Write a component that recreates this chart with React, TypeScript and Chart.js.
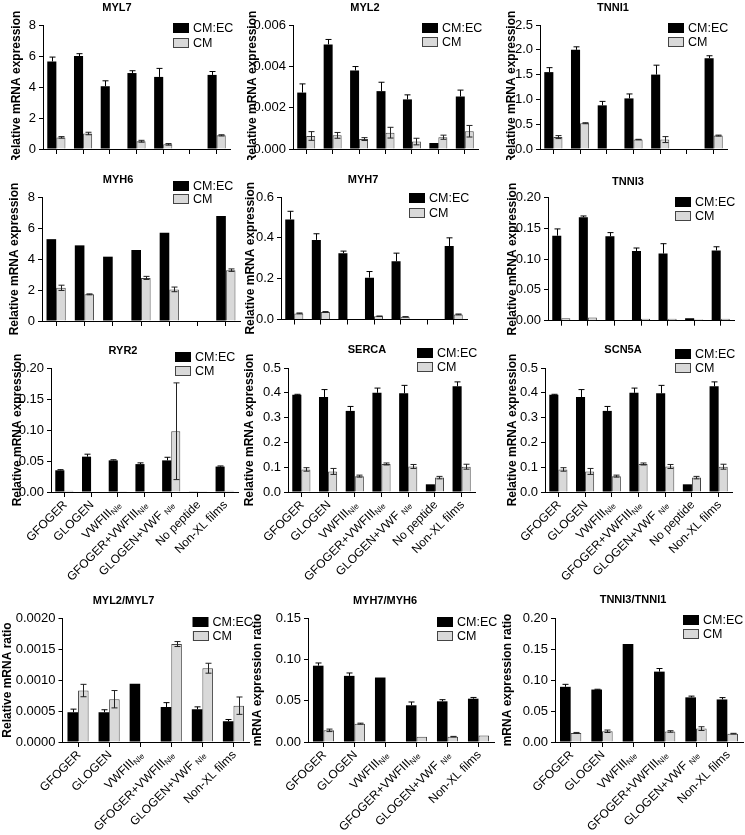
import React, { useEffect, useRef } from "react";
import { Chart, registerables } from "chart.js";

Chart.register(...registerables);

const FONT = "'Liberation Sans', Arial, Helvetica, sans-serif";
Chart.defaults.font.family = FONT;

// ---------- categories / series ----------
const categories = ["GFOGER", "GLOGEN", "VWFIII_Nle", "GFOGER+VWFIII_Nle", "GLOGEN+VWF _Nle", "No peptide", "Non-XL films"];
const ratioCategories = ["GFOGER", "GLOGEN", "VWFIII_Nle", "GFOGER+VWFIII_Nle", "GLOGEN+VWF _Nle", "Non-XL films"];
const seriesNames = ["CM:EC", "CM"];

// ---------- values ----------
const myl7EC = [5.65, 6.0, 4.05, 4.9, 4.65, null, 4.78];
const myl7ECErr = [0.28, 0.15, 0.35, 0.15, 0.55, 0, 0.22];
const myl7CM = [0.75, 1.0, null, 0.5, 0.3, null, 0.88];
const myl7CMErr = [0.05, 0.08, 0, 0.06, 0.05, 0, 0.04];

const myl2EC = [0.00273, 0.00506, 0.0038, 0.0028, 0.0024, 0.00029, 0.00254];
const myl2ECErr = [0.00042, 0.00024, 0.00019, 0.00043, 0.00022, 0, 0.00031];
const myl2CM = [0.00063, 0.00066, 0.00048, 0.00079, 0.00036, 0.00057, 0.00086];
const myl2CMErr = [0.00021, 0.00014, 0.00007, 0.00026, 0.00016, 0.0001, 0.00028];

const tnni1EC = [1.55, 2.0, 0.88, 1.02, 1.5, null, 1.83];
const tnni1ECErr = [0.09, 0.06, 0.08, 0.09, 0.19, 0, 0.05];
const tnni1CM = [0.24, 0.52, null, 0.19, 0.19, null, 0.27];
const tnni1CMErr = [0.03, 0.01, 0, 0.005, 0.06, 0, 0.01];

const myh6EC = [5.28, 4.88, 4.15, 4.58, 5.7, null, 6.78];
const myh6ECErr = [0, 0, 0, 0, 0, 0, 0];
const myh6CM = [2.14, 1.72, null, 2.78, 2.04, null, 3.28];
const myh6CMErr = [0.17, 0.03, 0, 0.1, 0.15, 0, 0.08];

const myh7EC = [0.49, 0.39, 0.325, 0.205, 0.285, null, 0.36];
const myh7ECErr = [0.04, 0.03, 0.01, 0.03, 0.04, 0, 0.04];
const myh7CM = [0.03, 0.037, null, 0.016, 0.013, null, 0.025];
const myh7CMErr = [0.002, 0.002, 0, 0.001, 0.001, 0, 0.002];

const tnni3EC = [0.138, 0.168, 0.137, 0.113, 0.109, 0.004, 0.114];
const tnni3ECErr = [0.011, 0.002, 0.006, 0.005, 0.016, 0, 0.006];
const tnni3CM = [0.004, 0.005, 0.001, 0.003, 0.003, 0.002, 0.003];
const tnni3CMErr = [0, 0, 0, 0, 0, 0, 0];

const ryr2EC = [0.035, 0.057, 0.051, 0.045, 0.051, 0.001, 0.041];
const ryr2ECErr = [0.001, 0.004, 0.001, 0.002, 0.005, 0, 0.001];
const ryr2CM = [0.002, 0.001, 0.0005, 0.001, 0.098, 0.0005, 0.002];
const ryr2CMErr = [0, 0, 0, 0, 0.078, 0, 0];

const sercaEC = [0.392, 0.383, 0.327, 0.4, 0.398, 0.031, 0.426];
const sercaECErr = [0.002, 0.03, 0.018, 0.019, 0.032, 0, 0.018];
const sercaCM = [0.091, 0.083, 0.064, 0.113, 0.103, 0.058, 0.102];
const sercaCMErr = [0.007, 0.012, 0.004, 0.004, 0.008, 0.005, 0.01];

const scn5aEC = [0.392, 0.383, 0.327, 0.4, 0.398, 0.031, 0.426];
const scn5aECErr = [0.002, 0.03, 0.018, 0.019, 0.032, 0, 0.018];
const scn5aCM = [0.091, 0.083, 0.064, 0.113, 0.103, 0.058, 0.102];
const scn5aCMErr = [0.007, 0.012, 0.004, 0.004, 0.008, 0.005, 0.01];

const myl2myl7EC = [0.00048, 0.00048, 0.00094, 0.000565, 0.000527, 0.000333];
const myl2myl7ECErr = [0.00005, 0.00004, 0, 0.00007, 0.00004, 0.00003];
const myl2myl7CM = [0.00083, 0.00069, null, 0.00158, 0.00119, 0.000586];
const myl2myl7CMErr = [0.0001, 0.00014, 0, 0.00004, 0.00008, 0.00014];

const myh7myh6EC = [0.0923, 0.08, 0.078, 0.0444, 0.0492, 0.0524];
const myh7myh6ECErr = [0.0033, 0.0035, 0, 0.004, 0.002, 0.0015];
const myh7myh6CM = [0.0141, 0.0222, null, 0.0065, 0.0065, 0.008];
const myh7myh6CMErr = [0.0015, 0.0006, 0, 0, 0.0003, 0];

const tnni3tnni1EC = [0.089, 0.0846, 0.158, 0.1135, 0.072, 0.0686];
const tnni3tnni1ECErr = [0.004, 0.0005, 0, 0.005, 0.002, 0.003];
const tnni3tnni1CM = [0.0146, 0.0173, null, 0.017, 0.0216, 0.0135];
const tnni3tnni1CMErr = [0.0008, 0.002, 0, 0.0012, 0.003, 0.0005];

// ---------- tick labels ----------
const ticks0to8 = [0, 2, 4, 6, 8];
const ticksMyl2 = [0, 0.002, 0.004, 0.006];
const ticksTnni1 = [0, 0.5, 1.0, 1.5, 2.0, 2.5];
const ticksMyh7 = [0, 0.2, 0.4, 0.6];
const ticks0to020 = [0, 0.05, 0.1, 0.15, 0.2];
const ticks0to05 = [0, 0.1, 0.2, 0.3, 0.4, 0.5];
const ticksMyl2Myl7 = [0, 0.0005, 0.001, 0.0015, 0.002];
const ticks0to015 = [0, 0.05, 0.1, 0.15];

const yTitleExpr = "Relative mRNA expression";

type PanelData = {
  title: string;
  cats: string[];
  ec: (number | null)[];
  ecErr: number[];
  cm: (number | null)[];
  cmErr: number[];
  ticks: number[];
  dec: number;
  yTitle: string;
  showX: boolean;
};

const panelData: PanelData[] = [
  { title: "MYL7", cats: categories, ec: myl7EC, ecErr: myl7ECErr, cm: myl7CM, cmErr: myl7CMErr, ticks: ticks0to8, dec: 0, yTitle: yTitleExpr, showX: false },
  { title: "MYL2", cats: categories, ec: myl2EC, ecErr: myl2ECErr, cm: myl2CM, cmErr: myl2CMErr, ticks: ticksMyl2, dec: 3, yTitle: yTitleExpr, showX: false },
  { title: "TNNI1", cats: categories, ec: tnni1EC, ecErr: tnni1ECErr, cm: tnni1CM, cmErr: tnni1CMErr, ticks: ticksTnni1, dec: 1, yTitle: yTitleExpr, showX: false },
  { title: "MYH6", cats: categories, ec: myh6EC, ecErr: myh6ECErr, cm: myh6CM, cmErr: myh6CMErr, ticks: ticks0to8, dec: 0, yTitle: yTitleExpr, showX: false },
  { title: "MYH7", cats: categories, ec: myh7EC, ecErr: myh7ECErr, cm: myh7CM, cmErr: myh7CMErr, ticks: ticksMyh7, dec: 1, yTitle: yTitleExpr, showX: false },
  { title: "TNNI3", cats: categories, ec: tnni3EC, ecErr: tnni3ECErr, cm: tnni3CM, cmErr: tnni3CMErr, ticks: ticks0to020, dec: 2, yTitle: yTitleExpr, showX: false },
  { title: "RYR2", cats: categories, ec: ryr2EC, ecErr: ryr2ECErr, cm: ryr2CM, cmErr: ryr2CMErr, ticks: ticks0to020, dec: 2, yTitle: yTitleExpr, showX: true },
  { title: "SERCA", cats: categories, ec: sercaEC, ecErr: sercaECErr, cm: sercaCM, cmErr: sercaCMErr, ticks: ticks0to05, dec: 1, yTitle: yTitleExpr, showX: true },
  { title: "SCN5A", cats: categories, ec: scn5aEC, ecErr: scn5aECErr, cm: scn5aCM, cmErr: scn5aCMErr, ticks: ticks0to05, dec: 1, yTitle: yTitleExpr, showX: true },
  { title: "MYL2/MYL7", cats: ratioCategories, ec: myl2myl7EC, ecErr: myl2myl7ECErr, cm: myl2myl7CM, cmErr: myl2myl7CMErr, ticks: ticksMyl2Myl7, dec: 4, yTitle: "Relative mRNA ratio", showX: true },
  { title: "MYH7/MYH6", cats: ratioCategories, ec: myh7myh6EC, ecErr: myh7myh6ECErr, cm: myh7myh6CM, cmErr: myh7myh6CMErr, ticks: ticks0to015, dec: 2, yTitle: "mRNA expression ratio", showX: true },
  { title: "TNNI3/TNNI1", cats: ratioCategories, ec: tnni3tnni1EC, ecErr: tnni3tnni1ECErr, cm: tnni3tnni1CM, cmErr: tnni3tnni1CMErr, ticks: ticks0to020, dec: 2, yTitle: "mRNA expression ratio", showX: true },
];

// ---------- layout (page pixels) ----------
type PanelLayout = {
  L: number; R: number; T: number; B: number;
  yTitleX: number;
  titleX: number; titleY: number;
  legX: number; legY1: number; legY2: number;
  top: number; bottom: number;
};

const panelLayout: PanelLayout[] = [
  { L: 43, R: 230, T: 25, B: 149, yTitleX: 17, titleX: 117, titleY: 8, legX: 173, legY1: 28, legY2: 43, top: 0, bottom: 160 },
  { L: 293, R: 478, T: 25, B: 149, yTitleX: 253, titleX: 365, titleY: 8, legX: 422, legY1: 28, legY2: 42, top: 0, bottom: 160 },
  { L: 540, R: 727, T: 25, B: 149, yTitleX: 512, titleX: 613, titleY: 8, legX: 668, legY1: 28, legY2: 42, top: 0, bottom: 160 },
  { L: 42, R: 240, T: 197, B: 321, yTitleX: 15, titleX: 118, titleY: 180, legX: 173, legY1: 186, legY2: 199, top: 160, bottom: 335 },
  { L: 281, R: 467, T: 197, B: 319.5, yTitleX: 251, titleX: 363, titleY: 180, legX: 409, legY1: 198, legY2: 213, top: 160, bottom: 335 },
  { L: 548, R: 734, T: 197.5, B: 320.7, yTitleX: 513, titleX: 628, titleY: 182, legX: 675, legY1: 202, legY2: 216, top: 160, bottom: 335 },
  { L: 51, R: 238, T: 368, B: 492, yTitleX: 18, titleX: 123, titleY: 351, legX: 175, legY1: 357, legY2: 371, top: 335, bottom: 600 },
  { L: 288, R: 475, T: 368, B: 492, yTitleX: 250, titleX: 367, titleY: 350, legX: 417, legY1: 353, legY2: 367, top: 335, bottom: 600 },
  { L: 545, R: 732, T: 368, B: 492, yTitleX: 513, titleX: 623, titleY: 350, legX: 675, legY1: 354, legY2: 368, top: 335, bottom: 600 },
  { L: 62, R: 249, T: 618, B: 742, yTitleX: 7.5, titleX: 123, titleY: 601, legX: 192, legY1: 622, legY2: 636, top: 590, bottom: 835 },
  { L: 308, R: 494, T: 618, B: 742, yTitleX: 258, titleX: 385, titleY: 601, legX: 437, legY1: 622, legY2: 636, top: 590, bottom: 835 },
  { L: 555, R: 743, T: 618, B: 742, yTitleX: 508, titleX: 633, titleY: 600, legX: 683, legY1: 620, legY2: 634, top: 590, bottom: 835 },
];

const BLACK = "#000000";
const GRAY = "#d9d9d9";
const GRAY_EDGE = "#444444";
const TITLE_LH = 14.4; // 12px * 1.2

function geometry(l: PanelLayout) {
  const cx = l.yTitleX - 10;
  const cy = l.top;
  const right = Math.min(745, l.R + 18);
  const cw = right - cx;
  const ch = l.bottom - l.top;
  const padL = l.yTitleX - cx - TITLE_LH / 2;
  const yw = l.L - cx - padL;
  const padT = l.T - cy;
  const padR = right - l.R;
  const xh = cy + ch - l.B;
  return { cx, cy, cw, ch, padL, yw, padT, padR, xh };
}

function makeChart(canvas: HTMLCanvasElement, d: PanelData, l: PanelLayout) {
  const g = geometry(l);
  const decor = {
    id: "decor",
    afterDatasetsDraw(chart: any) {
      const ctx: CanvasRenderingContext2D = chart.ctx;
      const ys = chart.scales.y;
      const sets = [
        { vals: d.ec, errs: d.ecErr, color: BLACK, lower: false },
        { vals: d.cm, errs: d.cmErr, color: "#222222", lower: true },
      ];
      ctx.save();
      ctx.lineWidth = 1;
      sets.forEach((s, di) => {
        const meta = chart.getDatasetMeta(di);
        s.vals.forEach((v, j) => {
          const e = s.errs[j];
          if (v == null || !e) return;
          const el = meta.data[j];
          if (!el) return;
          const x = Math.round(el.x) + 0.5;
          const yt = ys.getPixelForValue(v + e);
          const yb = ys.getPixelForValue(Math.max(v - e, 0));
          ctx.strokeStyle = s.color;
          ctx.beginPath();
          ctx.moveTo(x, yt);
          ctx.lineTo(x, s.lower ? yb : ys.getPixelForValue(v));
          ctx.moveTo(x - 3, yt);
          ctx.lineTo(x + 3, yt);
          if (s.lower) {
            ctx.moveTo(x - 3, yb);
            ctx.lineTo(x + 3, yb);
          }
          ctx.stroke();
        });
      });
      ctx.restore();
    },
    afterDraw(chart: any) {
      const ctx: CanvasRenderingContext2D = chart.ctx;
      ctx.save();
      // title
      ctx.fillStyle = "#000";
      ctx.font = `bold 11px ${FONT}`;
      ctx.textAlign = "center";
      ctx.textBaseline = "middle";
      ctx.fillText(d.title, l.titleX - g.cx, l.titleY - g.cy);
      // legend
      const bx = l.legX - g.cx;
      const rows = [l.legY1 - g.cy, l.legY2 - g.cy];
      ctx.font = `12.5px ${FONT}`;
      ctx.textAlign = "left";
      rows.forEach((ry, i) => {
        if (i === 0) {
          ctx.fillStyle = BLACK;
          ctx.fillRect(bx, ry - 5, 16, 10);
        } else {
          ctx.fillStyle = GRAY;
          ctx.fillRect(bx, ry - 5, 16, 10);
          ctx.strokeStyle = GRAY_EDGE;
          ctx.lineWidth = 1;
          ctx.strokeRect(Math.round(bx) + 0.5, Math.round(ry - 5) + 0.5, 15, 9);
        }
        ctx.fillStyle = "#000";
        ctx.fillText(seriesNames[i], bx + 20, ry + 0.5);
      });
      // rotated category labels with subscripts
      if (d.showX) {
        const xs = chart.scales.x;
        const bottom = chart.chartArea.bottom;
        const mainFont = `12px ${FONT}`;
        const subFont = `8px ${FONT}`;
        d.cats.forEach((c, j) => {
          const parts = c.split("_");
          const main = parts[0];
          const sub = parts[1] || "";
          const x = xs.getPixelForValue(j);
          ctx.save();
          ctx.translate(x + 1, bottom + 11);
          ctx.rotate(-Math.PI / 4);
          ctx.font = mainFont;
          const wm = ctx.measureText(main).width;
          ctx.font = subFont;
          const wsub = sub ? ctx.measureText(sub).width : 0;
          const total = wm + wsub;
          ctx.fillStyle = "#000";
          ctx.textAlign = "left";
          ctx.textBaseline = "middle";
          ctx.font = mainFont;
          ctx.fillText(main, -total, 0);
          if (sub) {
            ctx.font = subFont;
            ctx.fillText(sub, -wsub, 3);
          }
          ctx.restore();
        });
      }
      ctx.restore();
    },
  };

  const yMax = d.ticks[d.ticks.length - 1];
  return new Chart(canvas, {
    type: "bar",
    data: {
      labels: d.cats,
      datasets: [
        { label: seriesNames[0], data: d.ec as any, backgroundColor: BLACK, borderColor: BLACK, borderWidth: 0, categoryPercentage: 0.68, barPercentage: 1 },
        { label: seriesNames[1], data: d.cm as any, backgroundColor: GRAY, borderColor: GRAY_EDGE, borderWidth: 1, categoryPercentage: 0.68, barPercentage: 1 },
      ],
    },
    options: {
      responsive: false,
      maintainAspectRatio: false,
      animation: false,
      events: [],
      layout: { padding: { left: g.padL, top: g.padT, right: g.padR, bottom: 0 } },
      plugins: { legend: { display: false }, title: { display: false }, tooltip: { enabled: false } },
      scales: {
        x: {
          type: "category",
          offset: true,
          grid: { offset: false, drawOnChartArea: false, drawTicks: true, tickLength: 5, color: "#000", lineWidth: 1 },
          border: { display: true, color: "#000", width: 1 },
          ticks: { display: false },
          afterFit: (s: any) => { s.height = g.xh; },
        },
        y: {
          min: 0,
          max: yMax,
          grid: { drawOnChartArea: false, drawTicks: true, tickLength: 4, color: "#000", lineWidth: 1 },
          border: { display: true, color: "#000", width: 1 },
          ticks: {
            color: "#000",
            font: { size: 13, family: FONT },
            padding: 3,
            callback: (v: any) => Number(v).toFixed(d.dec),
          },
          afterBuildTicks: (s: any) => { s.ticks = d.ticks.map((v) => ({ value: v })); },
          afterFit: (s: any) => { s.width = g.yw; },
          title: {
            display: true,
            text: d.yTitle,
            color: "#000",
            font: { size: 12, weight: "bold", family: FONT, lineHeight: 1.2 },
            padding: { top: 0, bottom: 0 },
          },
        },
      },
    } as any,
    plugins: [decor],
  });
}

export default function App() {
  const refs = useRef<(HTMLCanvasElement | null)[]>([]);
  useEffect(() => {
    const charts: Chart[] = [];
    panelData.forEach((d, i) => {
      const c = refs.current[i];
      if (c) charts.push(makeChart(c, d, panelLayout[i]));
    });
    return () => charts.forEach((c) => c.destroy());
  }, []);

  return (
    <div style={{ position: "absolute", left: 0, top: 0, width: 745, height: 835, background: "#fff", overflow: "hidden" }}>
      {panelLayout.map((l, i) => {
        const g = geometry(l);
        return (
          <canvas
            key={i}
            ref={(el) => { refs.current[i] = el; }}
            width={g.cw}
            height={g.ch}
            style={{ position: "absolute", left: g.cx, top: g.cy, width: g.cw, height: g.ch }}
          />
        );
      })}
    </div>
  );
}
